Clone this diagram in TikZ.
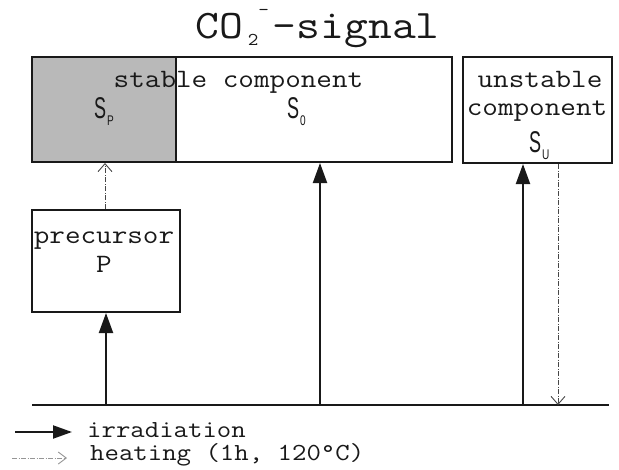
\documentclass[tikz,border=0pt]{standalone}
\usepackage{fontspec}
\usepackage{graphicx}
\newfontfamily\sansS{Liberation Sans}
\usetikzlibrary{arrows.meta}
\definecolor{greyfill}{RGB}{185,185,185}
\definecolor{ink}{RGB}{25,25,25}
\definecolor{dotink}{RGB}{70,70,70}
\definecolor{legdot}{RGB}{150,150,150}
\newcommand{\cour}[2]{\scalebox{1.143}[1]{\fontsize{#1}{#1}\selectfont\ttfamily\addfontfeatures{FakeBold=0.6}#2}}
\newcommand{\Slabel}[1]{\scalebox{0.6}[1]{\fontsize{30}{30}\selectfont\sansS S}\hspace{1pt}\raisebox{-7pt}{\scalebox{0.72}[1]{\fontsize{14}{14}\selectfont\sansS #1}}}
\begin{document}
\begin{tikzpicture}[x=1pt,y=-1pt,
  box/.style={draw=ink, line width=2pt, inner sep=0pt, rectangle},
  txt/.style={inner sep=0pt, text=ink},
  irr/.style={draw=ink, line width=2pt, -{Triangle[length=20pt,width=14pt]}},
  heat/.style={draw=dotink, line width=0.9pt, dash pattern=on 5pt off 1.5pt on 1pt off 1.5pt, -{Straight Barb[length=8pt,width=14pt]}}
]
\useasboundingbox (0,0) rectangle (619,469);
\fill[white] (0,0) rectangle (619,469);

% title
\node[txt, anchor=base west] (title) at (195,38) {\cour{40.5}{CO}\makebox[30pt][l]{\hspace{5pt}\raisebox{-7pt}{\cour{18}{2}}\raisebox{23pt}{\cour{18}{-}}}\cour{40.5}{-signal}};

% boxes
\node[box, fill=white, minimum width=420pt, minimum height=105pt] (stable) at (242,109.5) {};
\node[box, fill=greyfill, minimum width=144pt, minimum height=105pt] (SP) at (104,109.5) {};
\node[box, fill=white, minimum width=149pt, minimum height=106pt] (unstable) at (537.5,110) {};
\node[box, fill=white, minimum width=148pt, minimum height=102pt] (precursor) at (106,261) {};

% texts
\node[txt, anchor=base] (tstable) at (238.5,87) {\cour{26.5}{stable component}};
\node[txt, anchor=base] (tunst1) at (540,87) {\cour{26.5}{unstable}};
\node[txt, anchor=base] (tunst2) at (537,115) {\cour{26.5}{component}};
\node[txt, anchor=base] (tprec) at (104,243) {\cour{26.5}{precursor}};
\node[txt, anchor=base] (tP) at (104,272) {\cour{26.5}{P}};
\node[txt, anchor=base west] (lSP) at (94,118) {\Slabel{P}};
\node[txt, anchor=base west] (lS0) at (287,118) {\Slabel{0}};
\node[txt, anchor=base west] (lSU) at (529,152) {\Slabel{U}};

% base line
\coordinate (bl) at (32,405);
\coordinate (br) at (609,405);
\draw[draw=ink, line width=2.5pt] (bl) -- (br);

% arrows
\coordinate (a1) at (106,405);
\coordinate (a2) at (320,405);
\coordinate (a3) at (523,405);
\coordinate (a4) at (558,405);
\coordinate (d1) at (105,0);
\draw[irr] (a1) -- (a1 |- precursor.south);
\draw[heat] (precursor.north -| d1) -- (stable.south -| d1);
\draw[irr] (a2) -- (a2 |- stable.south);
\draw[irr] (a3) -- (a3 |- unstable.south);
\draw[heat] (a4 |- unstable.south) -- (a4);

% legend
\coordinate (l1s) at (15,432);
\coordinate (l1e) at (72,432);
\draw[irr, -{Triangle[length=19pt,width=13pt]}] (l1s) -- (l1e);
\node[txt, anchor=base west] (lirr) at (87,437) {\cour{24.5}{irradiation}};
\coordinate (l2s) at (12,458);
\coordinate (l2e) at (67,458);
\draw[heat, draw=legdot, -{Straight Barb[length=8pt,width=12pt]}] (l2s) -- (l2e);
\node[txt, anchor=base west] (lheat) at (90,460) {\cour{24.5}{heating (1h, 120°C)}};
\end{tikzpicture}
\end{document}
